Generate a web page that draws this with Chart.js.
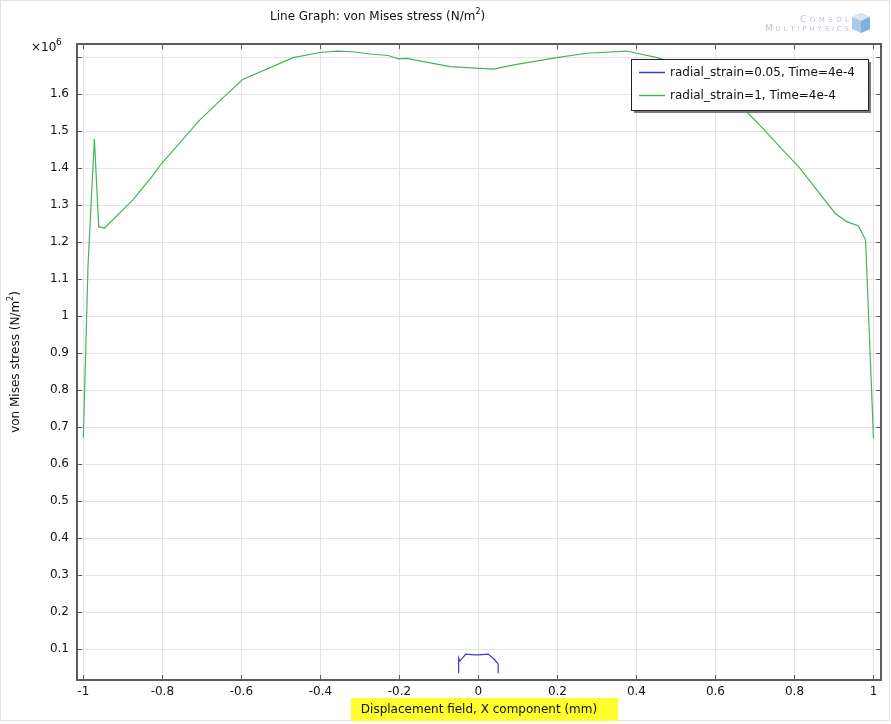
<!DOCTYPE html>
<html>
<head>
<meta charset="utf-8">
<script src="https://cdn.jsdelivr.net/npm/chart.js@4.4.1/dist/chart.umd.min.js"></script>
<style>
  html, body { margin: 0; padding: 0; background: #fff; }
  #wrap { width: 891px; height: 724px; position: relative; }
</style>
</head>
<body>
<div id="wrap"><canvas id="myChart" width="891" height="724"></canvas></div>
<script>
// series values (x in mm, y in 1e6 N/m^2)
const strain005X = [-0.05, -0.05, -0.047, -0.032, -0.01, 0.0, 0.025, 0.042, 0.05, 0.05];
const strain005Y = [0.035, 0.076, 0.068, 0.087, 0.085, 0.085, 0.087, 0.071, 0.06, 0.035];

const strain1X = [-1.0, -0.988, -0.972, -0.961, -0.955, -0.947, -0.875, -0.827, -0.802, -0.756,
  -0.705, -0.65, -0.597, -0.469, -0.401, -0.359, -0.317, -0.275, -0.228, -0.203, -0.182,
  -0.072, 0.004, 0.037, 0.097, 0.198, 0.274, 0.375, 0.4, 0.451, 0.52, 0.6, 0.679, 0.72, 0.763,
  0.814, 0.903, 0.932, 0.962, 0.98, 1.0];
const strain1Y = [0.671, 1.14, 1.479, 1.241, 1.241, 1.238, 1.314, 1.377, 1.413, 1.469,
  1.531, 1.587, 1.64, 1.699, 1.713, 1.717, 1.715, 1.709, 1.705, 1.696, 1.697,
  1.675, 1.67, 1.668, 1.681, 1.699, 1.711, 1.717, 1.711, 1.7, 1.675, 1.62, 1.553, 1.508, 1.458,
  1.4, 1.278, 1.256, 1.244, 1.206, 0.67];

const seriesLabels = ['radial_strain=0.05, Time=4e-4', 'radial_strain=1, Time=4e-4'];
const seriesColors = ['#3a3ad0', '#44b455'];

// tick labels
const xTicks = [-1, -0.8, -0.6, -0.4, -0.2, 0, 0.2, 0.4, 0.6, 0.8, 1];
const xTickLabels = ['-1', '-0.8', '-0.6', '-0.4', '-0.2', '0', '0.2', '0.4', '0.6', '0.8', '1'];
const yTicks = [0.1, 0.2, 0.3, 0.4, 0.5, 0.6, 0.7, 0.8, 0.9, 1, 1.1, 1.2, 1.3, 1.4, 1.5, 1.6, 1.7];
const yTickLabels = ['0.1', '0.2', '0.3', '0.4', '0.5', '0.6', '0.7', '0.8', '0.9', '1',
  '1.1', '1.2', '1.3', '1.4', '1.5', '1.6', ''];

const FONT = '"DejaVu Sans", sans-serif';
const AXIS = '#5c5c5c';

const toPoints = (xs, ys) => xs.map((x, i) => ({ x: x, y: ys[i] }));

// spread a small-caps word over the span x0..x1
function spreadWord(ctx, word, x0, x1, y) {
  const fonts = [...word].map((c, i) => (i === 0 ? '9px ' : '7px ') + FONT);
  const widths = [...word].map((c, i) => { ctx.font = fonts[i]; return ctx.measureText(c).width; });
  const total = widths.reduce((s, w) => s + w, 0);
  const gap = (x1 - x0 - total) / (word.length - 1);
  let x = x0;
  ctx.textAlign = 'left';
  [...word].forEach((c, i) => {
    ctx.font = fonts[i];
    ctx.fillText(c, x, y);
    x += widths[i] + gap;
  });
}

const decor = {
  id: 'decor',
  afterDraw(chart) {
    const ctx = chart.ctx;
    const a = chart.chartArea;
    const xs = chart.scales.x, ys = chart.scales.y;
    ctx.save();

    // outer frame
    ctx.strokeStyle = '#e2e2e2';
    ctx.lineWidth = 1;
    ctx.strokeRect(0.5, 0.5, 889, 720);

    // axes box
    ctx.strokeStyle = AXIS;
    ctx.lineWidth = 2;
    ctx.strokeRect(a.left, a.top, a.right - a.left, a.bottom - a.top);

    // inward ticks
    ctx.lineWidth = 1;
    ctx.beginPath();
    xTicks.forEach(v => {
      const px = Math.round(xs.getPixelForValue(v)) + 0.5;
      ctx.moveTo(px, a.bottom); ctx.lineTo(px, a.bottom - 5);
      ctx.moveTo(px, a.top); ctx.lineTo(px, a.top + 5);
    });
    yTicks.forEach(v => {
      const py = Math.round(ys.getPixelForValue(v)) + 0.5;
      ctx.moveTo(a.left, py); ctx.lineTo(a.left + 5, py);
      ctx.moveTo(a.right, py); ctx.lineTo(a.right - 5, py);
    });
    ctx.stroke();

    // title
    ctx.fillStyle = '#111';
    ctx.font = '12px ' + FONT;
    ctx.textBaseline = 'alphabetic';
    ctx.textAlign = 'left';
    const t1 = 'Line Graph: von Mises stress (N/m';
    ctx.fillText(t1, 270, 20);
    const w1 = ctx.measureText(t1).width;
    ctx.font = '8px ' + FONT;
    ctx.fillText('2', 270 + w1, 14);
    const w2 = ctx.measureText('2').width;
    ctx.font = '12px ' + FONT;
    ctx.fillText(')', 270 + w1 + w2, 20);

    // exponent marker
    ctx.font = '12px ' + FONT;
    ctx.fillText('\u00d710', 31, 51);
    ctx.font = '9px ' + FONT;
    ctx.fillText('6', 56, 45);

    // y title
    ctx.save();
    ctx.translate(19, (a.top + a.bottom) / 2);
    ctx.rotate(-Math.PI / 2);
    ctx.font = '12px ' + FONT;
    const yt = 'von Mises stress (N/m';
    const ywa = ctx.measureText(yt).width;
    ctx.font = '8px ' + FONT;
    const ywb = ctx.measureText('2').width;
    ctx.font = '12px ' + FONT;
    const ywc = ctx.measureText(')').width;
    let sx = -(ywa + ywb + ywc) / 2;
    ctx.fillText(yt, sx, 0);
    ctx.font = '8px ' + FONT;
    ctx.fillText('2', sx + ywa, -6);
    ctx.font = '12px ' + FONT;
    ctx.fillText(')', sx + ywa + ywb, 0);
    ctx.restore();

    // x title with highlight
    ctx.fillStyle = '#ffff2e';
    ctx.fillRect(351, 698, 267, 23);
    ctx.fillStyle = '#111';
    ctx.font = '12px ' + FONT;
    ctx.textAlign = 'center';
    ctx.fillText('Displacement field, X component (mm)', (a.left + a.right) / 2, 713);

    // legend
    const lx = 631, ly = 59, lw = 237, lh = 51;
    ctx.fillStyle = '#7a7a7a';
    ctx.fillRect(lx + 3, ly + 3, lw, lh);
    ctx.fillStyle = '#fff';
    ctx.fillRect(lx, ly, lw, lh);
    ctx.strokeStyle = '#222';
    ctx.lineWidth = 1;
    ctx.strokeRect(lx + 0.5, ly + 0.5, lw, lh);
    ctx.textAlign = 'left';
    chart.data.datasets.forEach((ds, i) => {
      const ry = ly + 13 + i * 23;
      ctx.strokeStyle = ds.borderColor;
      ctx.lineWidth = 1.5;
      ctx.beginPath();
      ctx.moveTo(lx + 8, ry + 0.5); ctx.lineTo(lx + 34, ry + 0.5);
      ctx.stroke();
      ctx.fillStyle = '#111';
      ctx.font = '12px ' + FONT;
      ctx.fillText(ds.label, lx + 39, ry + 4);
    });

    // logo
    ctx.fillStyle = '#bcc7d3';
    spreadWord(ctx, 'COMSOL', 800, 849, 22);
    spreadWord(ctx, 'MULTIPHYSICS', 765, 849, 31);
    ctx.fillStyle = '#a9c9e6';
    ctx.beginPath();
    ctx.moveTo(861, 13); ctx.lineTo(870, 17); ctx.lineTo(870, 29);
    ctx.lineTo(861, 33); ctx.lineTo(852, 29); ctx.lineTo(852, 17); ctx.closePath();
    ctx.fill();
    ctx.fillStyle = '#d6e6f3';
    ctx.beginPath();
    ctx.moveTo(861, 13); ctx.lineTo(870, 17); ctx.lineTo(861, 21); ctx.lineTo(852, 17); ctx.closePath();
    ctx.fill();
    ctx.fillStyle = '#7fb0da';
    ctx.beginPath();
    ctx.moveTo(861, 21); ctx.lineTo(870, 17); ctx.lineTo(870, 29); ctx.lineTo(861, 33); ctx.closePath();
    ctx.fill();

    ctx.restore();
  }
};

new Chart(document.getElementById('myChart'), {
  type: 'scatter',
  data: {
    datasets: [
      {
        label: seriesLabels[0],
        data: toPoints(strain005X, strain005Y),
        borderColor: seriesColors[0],
        backgroundColor: seriesColors[0],
        borderWidth: 1.2,
        showLine: true,
        pointRadius: 0,
        tension: 0
      },
      {
        label: seriesLabels[1],
        data: toPoints(strain1X, strain1Y),
        borderColor: seriesColors[1],
        backgroundColor: seriesColors[1],
        borderWidth: 1.2,
        showLine: true,
        pointRadius: 0,
        tension: 0
      }
    ]
  },
  options: {
    responsive: false,
    animation: false,
    devicePixelRatio: 1,
    layout: { padding: { left: 0, top: 44, right: 10, bottom: 0 } },
    plugins: {
      legend: { display: false },
      title: { display: false },
      tooltip: { enabled: false }
    },
    scales: {
      x: {
        type: 'linear',
        min: -1.016,
        max: 1.019,
        afterBuildTicks: scale => { scale.ticks = xTicks.map(v => ({ value: v })); },
        afterFit: scale => { scale.height = 44; },
        grid: { color: '#e4e4e4', drawTicks: false },
        border: { display: false },
        ticks: {
          padding: 5,
          color: '#111',
          font: { family: FONT, size: 12 },
          maxRotation: 0,
          autoSkip: false,
          callback: (v, i) => xTickLabels[i]
        }
      },
      y: {
        type: 'linear',
        min: 0.017,
        max: 1.736,
        afterBuildTicks: scale => { scale.ticks = yTicks.map(v => ({ value: v })); },
        afterFit: scale => { scale.width = 77; },
        grid: { color: '#e4e4e4', drawTicks: false },
        border: { display: false },
        ticks: {
          padding: 8,
          color: '#111',
          font: { family: FONT, size: 12 },
          autoSkip: false,
          callback: (v, i) => yTickLabels[i]
        }
      }
    }
  },
  plugins: [decor]
});
</script>
</body>
</html>
